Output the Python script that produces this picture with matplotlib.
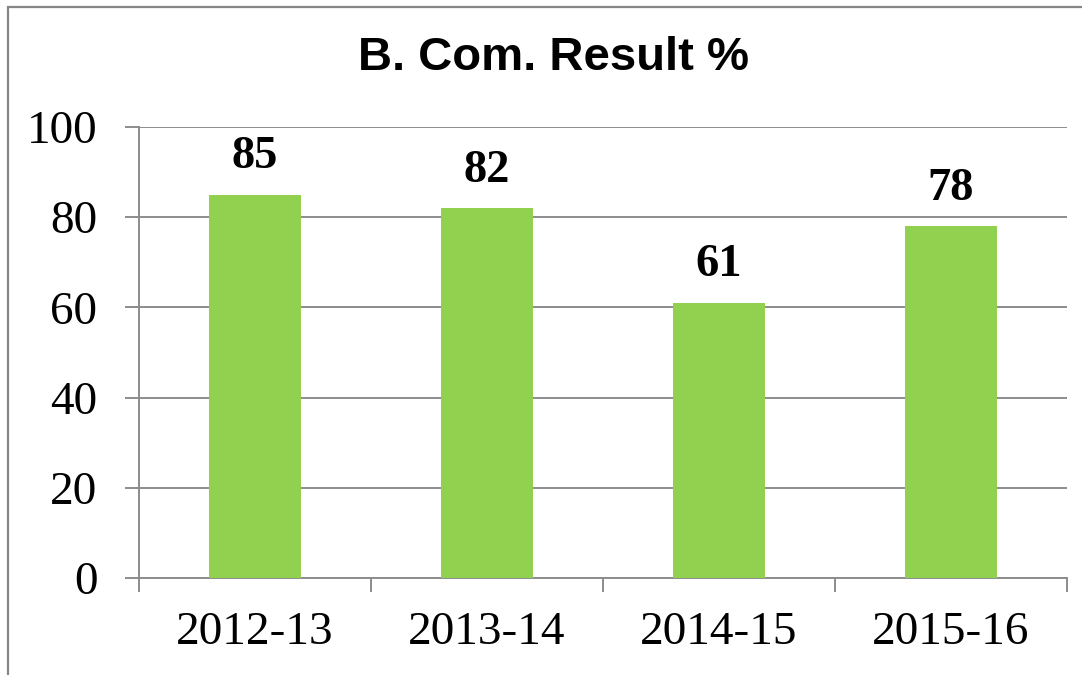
import matplotlib
matplotlib.use("Agg")
import matplotlib.pyplot as plt
from matplotlib.patches import Rectangle

categories = ["2012-13", "2013-14", "2014-15", "2015-16"]
values = [85, 82, 61, 78]
yticks = [0, 20, 40, 60, 80, 100]
title = "B. Com. Result %"

W, H = 1082, 675
fig = plt.figure(figsize=(W / 100, H / 100), dpi=100)

# outer chart border (left/top visible)
fig.patches.append(Rectangle((8 / W, -0.1), 1.2, (H - 7) / H + 0.1, transform=fig.transFigure,
                             fill=False, edgecolor="#868686", linewidth=1.6))

ax = fig.add_axes([139 / W, 1 - 578 / H, (1067 - 139) / W, (578 - 127) / H])
gray = "#8c8c8c"
x = list(range(len(categories)))
ax.bar(x, values, width=0.4, color="#92D050", zorder=3)
for xi, v in zip(x, values):
    ax.annotate(str(v), (xi, v), xytext=(0, 12), textcoords="offset points",
                ha="center", va="bottom", fontsize=33.5, fontweight="bold",
                family="Liberation Serif")

ax.set_xlim(-0.5, len(categories) - 0.5)
ax.set_ylim(0, 100)
ax.set_yticks(yticks)
ax.set_yticklabels([str(t) for t in yticks], fontsize=34, family="Liberation Serif")
ax.set_xticks([i - 0.5 for i in range(len(categories) + 1)])
ax.set_xticklabels([])
ax.set_xticks(x, minor=True)
ax.set_xticklabels(categories, minor=True, fontsize=34, family="Liberation Serif")
ax.tick_params(axis="x", which="minor", length=0, pad=24)
ax.tick_params(axis="x", which="major", length=10, width=1.4, color=gray)
ax.tick_params(axis="y", length=10, width=1.4, color=gray, pad=20)
ax.grid(axis="y", color=gray, linewidth=1.4, zorder=0)
for s in ["top", "right"]:
    ax.spines[s].set_visible(False)
for s in ["left", "bottom"]:
    ax.spines[s].set_color(gray)
    ax.spines[s].set_linewidth(1.4)

fig.text(553 / W, 1 - 58 / H, title, ha="center", va="center", fontsize=34,
         fontweight="bold", family="Liberation Sans")

fig.savefig("out.png", dpi=100)
